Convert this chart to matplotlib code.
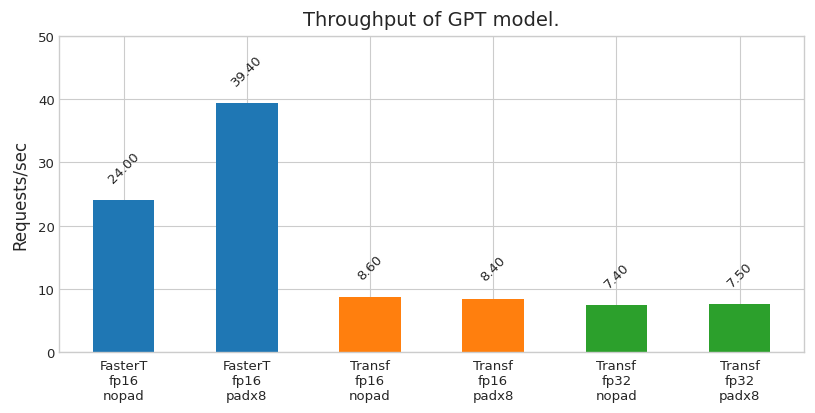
import matplotlib
matplotlib.use("Agg")
import matplotlib.pyplot as plt

categories = ["FasterT\nfp16\nnopad", "FasterT\nfp16\npadx8", "Transf\nfp16\nnopad",
              "Transf\nfp16\npadx8", "Transf\nfp32\nnopad", "Transf\nfp32\npadx8"]
values = [24.00, 39.40, 8.60, 8.40, 7.40, 7.50]
colors = ["#1f77b4", "#1f77b4", "#ff7f0e", "#ff7f0e", "#2ca02c", "#2ca02c"]

plt.style.use("seaborn-v0_8-whitegrid")
plt.rcParams["font.family"] = ["DejaVu Sans"]
fig, ax = plt.subplots(figsize=(8.15, 4.14), dpi=100)
fig.subplots_adjust(left=0.073, right=0.986, top=0.91, bottom=0.148)

x = list(range(len(categories)))
ax.bar(x, values, width=0.5, color=colors, zorder=2)
for xi, v in zip(x, values):
    ax.text(xi, v + 2.4, f"{v:.2f}", rotation=45, ha="center", va="bottom",
            fontsize=9.5, color="#262626")
ax.set_xticks(x)
ax.set_xticklabels(categories)
ax.tick_params(labelsize=9.5)
ax.tick_params(axis="x", pad=5)
ax.set_ylim(0, 50)
ax.set_xlim(-0.52, 5.52)
ax.set_ylabel("Requests/sec", fontsize=12, labelpad=6)
ax.set_title("Throughput of GPT model.", fontsize=14, pad=8)
for s in ax.spines.values():
    s.set_visible(True)
    s.set_color("#cccccc")
fig.savefig("out.png", dpi=100)
